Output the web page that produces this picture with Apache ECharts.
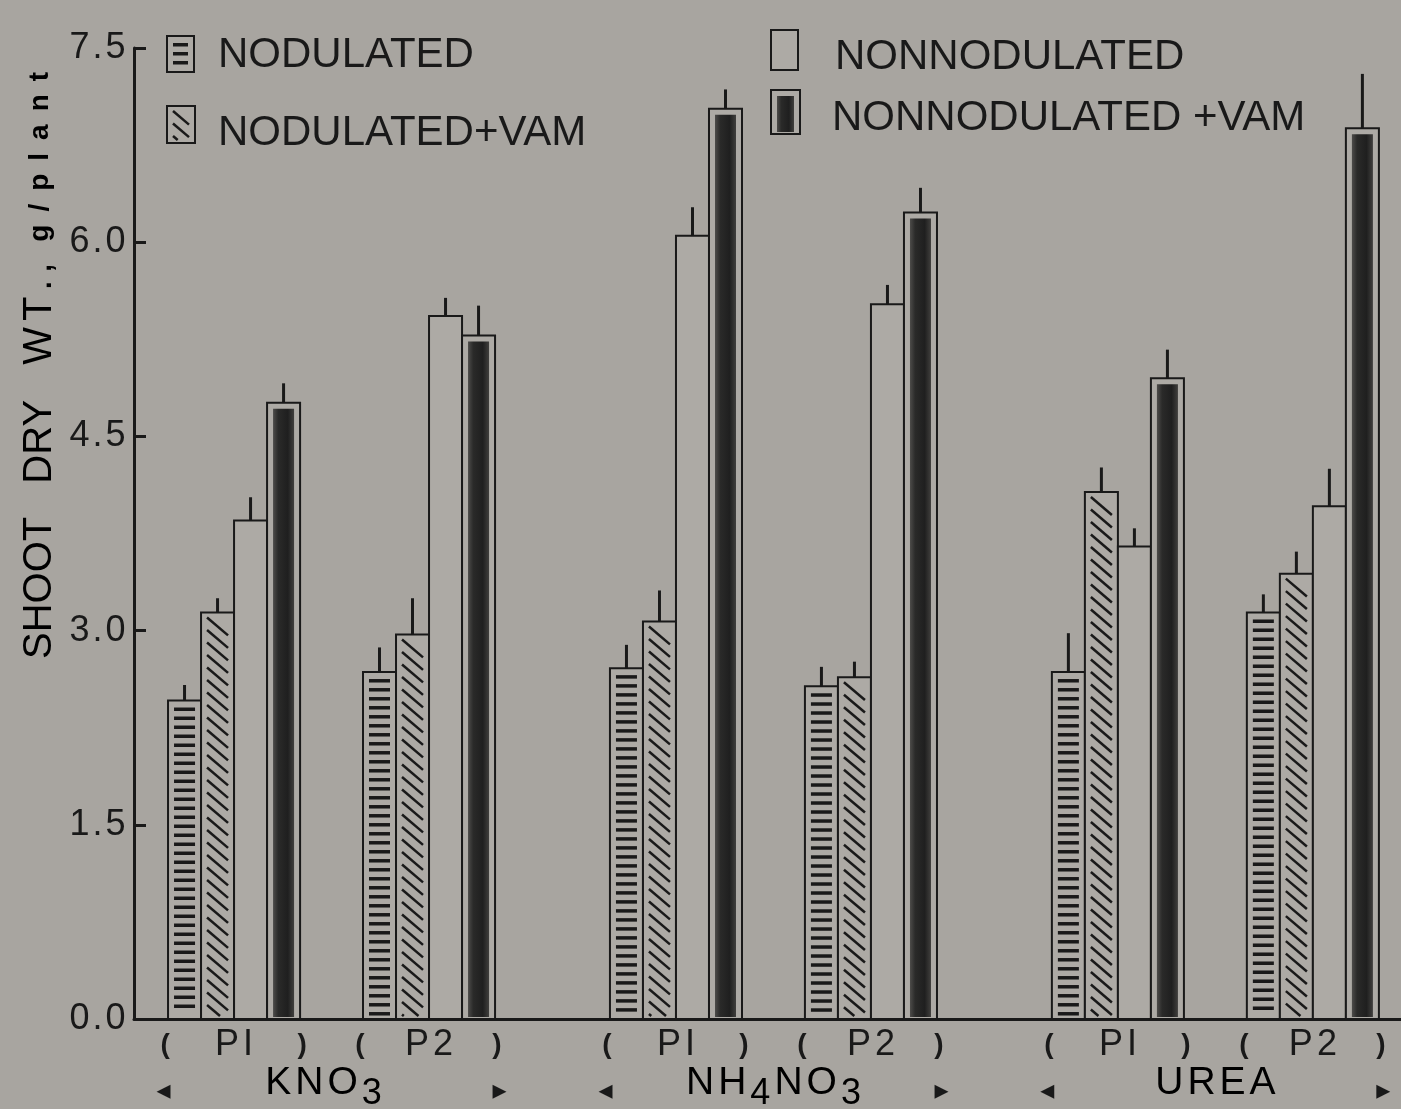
<!DOCTYPE html>
<html>
<head>
<meta charset="utf-8">
<title>Shoot dry weight</title>
<script src="https://cdn.jsdelivr.net/npm/echarts@6.0.0/dist/echarts.min.js"></script>
<style>
  html, body { margin: 0; padding: 0; background: #a8a5a0; }
  #chart { width: 1401px; height: 1109px; }
</style>
</head>
<body>
<div id="chart"></div>
<script>
// ---- data -------------------------------------------------------------
const fertilizers = ['KNO3', 'NH4NO3', 'UREA'];
const phosphorusLevels = ['PI', 'P2'];
const treatments = ['NODULATED', 'NODULATED+VAM', 'NONNODULATED', 'NONNODULATED +VAM'];

// order of values: KNO3 PI, KNO3 P2, NH4NO3 PI, NH4NO3 P2, UREA PI, UREA P2 (g/plant)
const nodulated          = [2.46, 2.68, 2.71, 2.57, 2.68, 3.14];
const nodulatedErr       = [0.12, 0.19, 0.18, 0.15, 0.30, 0.14];
const nodulatedVam       = [3.14, 2.97, 3.07, 2.64, 4.07, 3.44];
const nodulatedVamErr    = [0.11, 0.28, 0.24, 0.12, 0.19, 0.17];
const nonnodulated       = [3.85, 5.43, 6.05, 5.52, 3.65, 3.96];
const nonnodulatedErr    = [0.18, 0.14, 0.22, 0.15, 0.14, 0.29];
const nonnodulatedVam    = [4.76, 5.28, 7.03, 6.23, 4.95, 6.88];
const nonnodulatedVamErr = [0.15, 0.23, 0.15, 0.19, 0.22, 0.42];

const yMin = 0, yMax = 7.5, yStep = 1.5;
const titleWords = ['SHOOT', 'DRY', 'WT.,'];
const titleUnit = 'g/plant';

// ---- layout / style ---------------------------------------------------
const INK = '#191919';
const BG = '#a8a5a0';
const BAR_FILL = '#adaaa5';
const FONT = '"Liberation Sans", Arial, Helvetica, sans-serif';
const BAR_W = 0.0747;        // bar width in x units (1 unit = one fertilizer block)
const LEVEL_OFFSET = 0.2206; // PI / P2 cluster centres relative to the block centre
const X_MIN = -0.447, X_MAX = 2.42;

const seriesValues = [nodulated, nodulatedVam, nonnodulated, nonnodulatedVam];
const seriesErrors = [nodulatedErr, nodulatedVamErr, nonnodulatedErr, nonnodulatedVamErr];

function barCenter(i, t) {
  const f = Math.floor(i / 2);
  const lvl = i % 2 ? 1 : -1;
  return f + lvl * LEVEL_OFFSET + (t - 1.5) * BAR_W;
}

function darkGradient() {
  return new echarts.graphic.LinearGradient(0, 0, 1, 0, [
    { offset: 0, color: '#4d4c4a' },
    { offset: 0.25, color: '#2a2a29' },
    { offset: 0.7, color: '#1f1f1f' },
    { offset: 1, color: '#403f3d' }
  ]);
}

// Shapes of one bar (outline + fill pattern) in pixel space
function barShapes(t, left, top, w, bottom) {
  const h = bottom - top;
  const out = [{
    type: 'rect',
    shape: { x: left, y: top, width: w, height: h },
    style: { fill: BAR_FILL, stroke: INK, lineWidth: 2 }
  }];
  if (t === 0) {
    for (let y = top + 7; y + 3.5 < bottom - 2; y += 9) {
      out.push({ type: 'rect', shape: { x: left + 6, y: y, width: w - 12, height: 3.5 },
                 style: { fill: INK } });
    }
  } else if (t === 1) {
    const dx = w - 12, dy = dx * 0.85;
    for (let y = top + 5; y < bottom - 4; y += 12.5) {
      let y2 = y + dy, x2 = left + 6 + dx;
      if (y2 > bottom - 3) { const k = (bottom - 3 - y) / dy; y2 = bottom - 3; x2 = left + 6 + dx * k; }
      out.push({ type: 'line', shape: { x1: left + 6, y1: y, x2: x2, y2: y2 },
                 style: { stroke: INK, lineWidth: 2.5 } });
    }
  } else if (t === 3) {
    out.push({ type: 'rect', shape: { x: left + 6, y: top + 6, width: w - 12, height: Math.max(0, h - 8) },
               style: { fill: darkGradient() } });
  }
  return out;
}

function makeRenderItem(t) {
  return function (params, api) {
    const x = api.value(0), v = api.value(1), e = api.value(2);
    const top = api.coord([x, v]);
    const base = api.coord([x, yMin]);
    const errTop = api.coord([x, v + e]);
    const w = api.size([BAR_W, 0])[0];
    const children = barShapes(t, top[0] - w / 2, top[1], w, base[1]);
    children.push({ type: 'line', shape: { x1: top[0], y1: top[1], x2: top[0], y2: errTop[1] },
                    style: { stroke: INK, lineWidth: 3 } });
    return { type: 'group', children: children };
  };
}

function spaced(str, style) {
  return str.split('').map(function (ch) { return '{' + style + '|' + ch + '}'; }).join('');
}
function chem(str) {
  return str.split('').map(function (ch) {
    return (/\d/.test(ch) ? '{sub|' : '{base|') + ch + '}';
  }).join('');
}

const chart = echarts.init(document.getElementById('chart'), null, { renderer: 'canvas' });

chart.setOption({
  backgroundColor: BG,
  animation: false,
  grid: { left: 134, right: 0, top: 48, bottom: 90, containLabel: false },
  xAxis: {
    type: 'value', min: X_MIN, max: X_MAX,
    axisLine: { show: true, onZero: false, lineStyle: { color: INK, width: 3 } },
    axisTick: { show: false }, axisLabel: { show: false }, splitLine: { show: false }
  },
  yAxis: {
    type: 'value', min: yMin, max: yMax, interval: yStep,
    axisLine: { show: true, onZero: false, lineStyle: { color: INK, width: 3 } },
    axisTick: { show: true, inside: true, length: 12, lineStyle: { color: INK, width: 3 } },
    splitLine: { show: false },
    axisLabel: {
      margin: 7,
      formatter: function (v) { return spaced(v.toFixed(1), 'd'); },
      rich: { d: { fontSize: 36, fontFamily: FONT, color: INK, padding: [0, 1.5, 0, 1.5] } }
    }
  },
  series: treatments.map(function (name, t) {
    return {
      type: 'custom',
      name: name,
      renderItem: makeRenderItem(t),
      encode: { x: 0, y: 1 },
      data: seriesValues[t].map(function (v, i) { return [barCenter(i, t), v, seriesErrors[t][i]]; })
    };
  })
});

// ---- texts and legend placed from the axis scale ---------------------------
const graphics = [];
const ROW1_Y = 1045, ROW2_Y = 1088, ROW2_TOP = 1064;
const px = function (xv) { return chart.convertToPixel({ xAxisIndex: 0 }, xv); };

fertilizers.forEach(function (fert, f) {
  const cx = px(f);
  phosphorusLevels.forEach(function (lvl, j) {
    const gx = px(f + (j ? 1 : -1) * LEVEL_OFFSET);
    graphics.push({ type: 'text', x: gx - 69, y: ROW1_Y,
      style: { text: '(', fontSize: 28, fontWeight: 'bold', fontFamily: FONT, fill: INK, align: 'center', verticalAlign: 'middle' } });
    graphics.push({ type: 'text', x: gx + 68, y: ROW1_Y,
      style: { text: ')', fontSize: 28, fontWeight: 'bold', fontFamily: FONT, fill: INK, align: 'center', verticalAlign: 'middle' } });
    graphics.push({ type: 'text', x: gx, y: ROW1_Y,
      style: { text: spaced(lvl, 'p'), align: 'center', verticalAlign: 'middle',
        rich: { p: { fontSize: 36, fontFamily: FONT, fill: INK, color: INK, padding: [0, 2, 0, 2] } } } });
  });
  graphics.push({ type: 'text', x: cx - 168, y: ROW2_Y + 4,
    style: { text: '\u25C2', fontSize: 28, fontFamily: '"DejaVu Sans", sans-serif', fill: INK, align: 'center', verticalAlign: 'middle' } });
  graphics.push({ type: 'text', x: cx + 168, y: ROW2_Y + 4,
    style: { text: '\u25B8', fontSize: 28, fontFamily: '"DejaVu Sans", sans-serif', fill: INK, align: 'center', verticalAlign: 'middle' } });
  graphics.push({ type: 'text', x: cx - (f === 0 ? 8 : 0), y: ROW2_TOP,
    style: { text: chem(fert), align: 'center', verticalAlign: 'top',
      rich: {
        base: { fontSize: 39, fontFamily: FONT, color: INK, verticalAlign: 'top', padding: [0, 2, 0, 2] },
        sub: { fontSize: 36, fontFamily: FONT, color: INK, verticalAlign: 'top', padding: [12, 2, 0, 2] }
      } } });
});

// y-axis title (reads bottom to top)
graphics.push({
  type: 'text', x: 40, y: 660, rotation: Math.PI / 2,
  style: {
    text: '{t|' + titleWords[0] + '}{gap| }{t|' + titleWords[1] + '}{gap| }' +
          spaced(titleWords[2], 'w') + '{gap2| }' + spaced(titleUnit, 'u'),
    align: 'left', verticalAlign: 'middle',
    rich: {
      t: { fontSize: 40, fontFamily: FONT, color: INK, padding: [0, 1, 0, 1] },
      w: { fontSize: 40, fontFamily: FONT, color: INK, padding: [0, 3, 0, 3] },
      gap: { fontSize: 40, fontFamily: FONT, color: INK, padding: [0, 10, 0, 10] },
      gap2: { fontSize: 26, fontFamily: FONT, color: INK, padding: [0, 2, 0, 2] },
      u: { fontSize: 28, fontWeight: 'bold', fontFamily: FONT, color: INK, padding: [0, 6.5, 0, 6.5] }
    }
  }
});

// legend
const legendItems = [
  { t: 0, icon: [167, 36, 27, 36], tx: 218, ty: 55 },
  { t: 1, icon: [167, 106, 28, 37], tx: 218, ty: 133 },
  { t: 2, icon: [771, 30, 27, 40], tx: 835, ty: 57 },
  { t: 3, icon: [771, 90, 29, 44], tx: 832, ty: 118 }
];
legendItems.forEach(function (it) {
  const r = it.icon;
  graphics.push({ type: 'group', children: barShapes(it.t, r[0], r[1], r[2], r[1] + r[3]) });
  graphics.push({ type: 'text', x: it.tx, y: it.ty,
    style: { text: treatments[it.t], fontSize: 42, fontFamily: FONT, fill: INK, align: 'left', verticalAlign: 'middle' } });
});

chart.setOption({ graphic: graphics });
</script>
</body>
</html>
